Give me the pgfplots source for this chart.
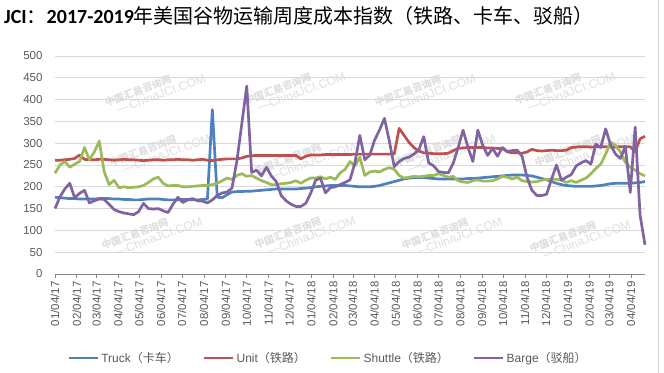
\documentclass[border=0pt]{standalone}
\usepackage{fontspec}
\setmainfont{Liberation Sans}
\newfontfamily\calfont{Carlito}
\newfontfamily\cjk{Noto Sans CJK SC}
\usepackage{pgfplots}
\usepackage{pgfplotstable}
\pgfplotsset{compat=1.18}
\definecolor{truck}{RGB}{79,129,189}
\definecolor{unit}{RGB}{192,80,77}
\definecolor{shuttle}{RGB}{155,187,89}
\definecolor{barge}{RGB}{128,100,162}
\definecolor{txt}{RGB}{89,89,89}
\definecolor{grd}{RGB}{217,217,217}
\definecolor{axl}{RGB}{134,134,134}
\definecolor{wm}{RGB}{222,222,222}

\pgfplotstableread{
d T U S B
0 176 261 231 150
7 175 261 250 177
14 174 262 258 195
21 173 263 245 208
28 173 265 252 175
35 172 273 258 185
42 172 263 290 192
49 172 262 262 163
56 172 262 280 168
63 173 263 305 172
70 173 263 235 171
77 173 262 205 160
84 172 261 215 148
91 172 262 198 143
98 171 263 200 140
105 171 262 198 138
112 170 262 199 136
119 170 261 200 143
126 171 260 203 162
133 172 261 210 150
140 172 262 218 149
147 172 262 222 150
154 171 261 208 145
161 170 262 202 141
168 170 262 203 160
175 170 263 203 176
182 171 262 200 164
189 171 262 200 170
196 170 261 201 173
203 170 262 202 168
210 171 263 203 167
217 172 261 203 163
224 377 260 205 170
231 176 262 208 180
238 175 263 214 186
245 182 264 220 188
252 188 264 217 197
259 189 264 226 260
266 189 266 230 345
273 190 270 224 431
280 190 271 226 233
287 191 272 220 238
294 192 272 214 225
301 193 272 210 245
308 194 272 205 225
315 195 272 205 212
322 195 272 207 180
329 195 272 208 168
336 195 272 210 160
343 195 272 214 155
350 196 264 208 155
357 197 270 215 162
364 198 273 220 185
371 200 273 220 215
378 201 273 223 220
385 202 274 218 186
392 203 274 222 198
399 203 274 217 200
406 203 274 232 205
413 203 274 240 210
420 202 274 258 216
427 201 275 248 255
434 200 275 268 318
441 200 275 226 262
448 200 275 234 272
455 201 275 236 307
462 203 275 234 330
469 206 275 240 357
476 209 275 244 305
483 212 275 240 246
490 215 334 226 258
497 218 318 220 265
504 220 302 222 268
511 221 290 224 275
518 221 282 223 285
525 221 278 224 315
532 220 277 226 255
539 219 276 226 248
546 218 276 230 235
553 218 276 226 233
560 218 277 222 232
567 218 283 224 254
574 218 288 214 290
581 218 289 211 330
588 219 290 210 290
595 219 290 214 258
602 220 290 216 330
609 221 290 213 295
616 222 289 213 272
623 223 289 214 288
630 224 288 218 270
637 225 288 224 290
644 226 280 222 281
651 227 278 218 283
658 227 278 222 284
665 227 277 214 270
672 226 280 212 222
679 225 286 211 192
686 222 283 212 180
693 219 282 215 180
700 216 283 217 183
707 212 284 218 218
714 208 283 217 250
721 205 283 216 215
728 203 284 210 222
735 202 290 214 228
742 201 291 210 248
749 201 292 215 255
756 201 292 220 260
763 201 291 230 252
770 202 292 242 298
777 203 292 252 290
784 205 292 275 333
791 207 291 302 296
798 208 291 295 275
805 208 292 280 265
812 208 292 256 293
819 208 292 245 187
826 209 280 238 337
833 210 310 230 135
840 212 316 225 67
}\jci

\newcommand\wmark[2]{\node[rotate=20, text=wm, align=left, inner sep=0pt] at ({#1*1bp},{(373-#2)*1bp}) {{\cjk\fontsize{10bp}{12bp}\selectfont\bfseries 中国汇易咨询网}\\[-1bp]\hspace*{10bp}{\fontsize{12bp}{13bp}\selectfont ---ChinaJCI.COM}};}

\begin{document}
\begin{tikzpicture}
\useasboundingbox (0,0) rectangle (664bp,373bp);
\draw[grd] (658bp,0) -- (658bp,373bp);
\wmark{155}{90}
\wmark{295}{88}
\wmark{425}{90}
\wmark{565}{88}
\wmark{160}{150}
\wmark{305}{158}
\wmark{445}{150}
\wmark{585}{150}
\wmark{152}{233}
\wmark{305}{232}
\wmark{452}{233}
\wmark{580}{236}
\node[anchor=base west, inner sep=0pt] at (4bp,349bp) {{\calfont\fontsize{20bp}{22bp}\selectfont\bfseries JCI}{\cjk\fontsize{20bp}{22bp}\selectfont ：}{\calfont\fontsize{20bp}{22bp}\selectfont\bfseries 2017-2019}{\cjk\fontsize{20bp}{22bp}\selectfont 年美国谷物运输周度成本指数（铁路、卡车、驳船）}};
\begin{axis}[
  at={(55bp,99bp)}, anchor=south west,
  scale only axis, width=590bp, height=218bp,
  xmin=0, xmax=840, ymin=0, ymax=500,
  ytick={0,50,...,500},
  xtick={0,31,59,90,120,151,181,212,243,273,304,334,365,396,424,455,485,516,546,577,608,638,669,699,730,761,789,820},
  xticklabels={01/04/17,02/04/17,03/04/17,04/04/17,05/04/17,06/04/17,07/04/17,08/04/17,09/04/17,10/04/17,11/04/17,12/04/17,01/04/18,02/04/18,03/04/18,04/04/18,05/04/18,06/04/18,07/04/18,08/04/18,09/04/18,10/04/18,11/04/18,12/04/18,01/04/19,02/04/19,03/04/19,04/04/19},
  /pgf/number format/assume math mode=true,
  tick label style={font=\fontsize{11.5bp}{13bp}\selectfont, text=txt},
  x tick label style={rotate=90, anchor=east},
  yticklabel style={xshift=-5bp},
  separate axis lines,
  axis x line*=bottom, axis y line*=left,
  x axis line style={axl, -},
  y axis line style={draw=none},
  ytick style={draw=none},
  xtick style={axl, line width=0.6bp},
  tick align=outside, major tick length=4bp,
  ymajorgrids, grid style={grd, line width=0.8bp},
  every axis plot/.append style={line width=2.7bp, line join=round, no markers},
  legend style={at={(0.463,-0.385)}, anchor=center, draw=none, fill=none,
    legend columns=4, font=\fontsize{12bp}{14bp}\selectfont, text=txt,
    /tikz/every even column/.append style={column sep=22bp}},
  legend cell align=left,
  legend image code/.code={\draw[#1] (0bp,0bp) -- (29bp,0bp);},
  clip=false,
]
\addplot[truck] table[x=d, y=T] {\jci};
\addlegendentry{Truck{\cjk（卡车）}}
\addplot[unit] table[x=d, y=U] {\jci};
\addlegendentry{Unit{\cjk（铁路）}}
\addplot[shuttle] table[x=d, y=S] {\jci};
\addlegendentry{Shuttle{\cjk（铁路）}}
\addplot[barge] table[x=d, y=B] {\jci};
\addlegendentry{Barge{\cjk（驳船）}}
\end{axis}
\end{tikzpicture}
\end{document}
